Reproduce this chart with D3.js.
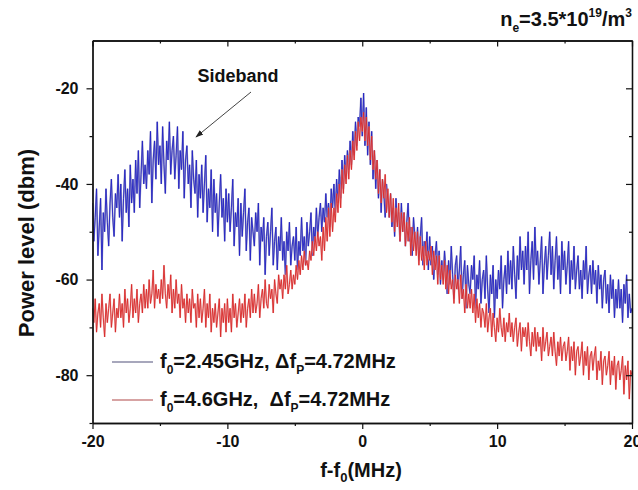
<!DOCTYPE html>
<html>
<head>
<meta charset="utf-8">
<script src="https://cdn.jsdelivr.net/npm/d3@7"></script>
<style>
  html,body{margin:0;padding:0;background:#fff;}
  text{font-family:"Liberation Sans",Arial,sans-serif;font-weight:bold;fill:#111;}
</style>
</head>
<body>
<svg id="chart" width="638" height="490"></svg>
<script>
// ---- data ----
const freqStart = -20;   // MHz
const freqStep = 0.1;    // MHz
// f0 = 2.45 GHz (blue), one row per MHz
const blueValues = [
  -44,-52,-47,-41,-55,-49,-43,-58,-46,-50,
  -41,-48,-53,-44,-39,-47,-51,-42,-45,-38,
  -47,-40,-52,-43,-37,-46,-41,-49,-36,-44,
  -39,-46,-35,-42,-33,-45,-38,-31,-40,-36,
  -41,-33,-38,-29,-44,-35,-31,-39,-27,-36,
  -32,-40,-28,-36,-42,-31,-35,-27,-38,-33,
  -30,-39,-34,-28,-41,-33,-37,-29,-43,-35,
  -32,-40,-36,-45,-33,-39,-42,-35,-47,-38,
  -43,-36,-46,-40,-34,-48,-41,-45,-37,-50,
  -39,-46,-42,-51,-44,-38,-47,-43,-52,-41,
  -48,-42,-50,-45,-39,-53,-46,-49,-43,-55,
  -44,-51,-46,-41,-54,-48,-45,-56,-47,-50,
  -53,-46,-50,-44,-57,-49,-52,-47,-59,-51,
  -48,-55,-50,-45,-57,-52,-49,-58,-51,-54,
  -47,-56,-52,-59,-50,-54,-48,-57,-53,-51,
  -56,-49,-58,-52,-55,-47,-54,-51,-57,-48,
  -53,-50,-46,-55,-49,-52,-45,-51,-47,-44,
  -50,-45,-48,-42,-47,-44,-49,-41,-45,-40,
  -46,-39,-44,-37,-43,-35,-41,-34,-39,-33,
  -37,-31,-36,-29,-34,-27,-32,-26,-28,-22,
  -30,-21,-32,-24,-34,-27,-36,-29,-39,-33,
  -41,-35,-43,-37,-46,-39,-42,-47,-40,-44,
  -47,-42,-49,-45,-51,-43,-48,-46,-52,-44,
  -50,-46,-53,-48,-44,-52,-49,-55,-47,-51,
  -54,-49,-56,-51,-47,-57,-52,-55,-50,-58,
  -51,-57,-53,-60,-55,-52,-59,-54,-61,-56,
  -60,-54,-58,-63,-56,-61,-53,-59,-64,-57,
  -55,-62,-58,-53,-64,-59,-56,-66,-57,-61,
  -63,-57,-60,-55,-66,-59,-62,-56,-65,-60,
  -58,-64,-55,-62,-67,-59,-63,-57,-68,-60,
  -64,-58,-62,-55,-66,-60,-57,-63,-54,-61,
  -56,-62,-53,-59,-64,-55,-60,-51,-58,-54,
  -61,-53,-58,-50,-63,-56,-52,-60,-49,-57,
  -54,-61,-56,-51,-63,-57,-53,-60,-55,-50,
  -59,-53,-62,-56,-51,-60,-55,-63,-52,-58,
  -54,-61,-57,-52,-63,-56,-60,-53,-62,-58,
  -55,-62,-58,-64,-56,-60,-53,-63,-59,-57,
  -63,-56,-61,-58,-65,-57,-62,-59,-66,-60,
  -58,-65,-61,-67,-59,-64,-60,-68,-62,-66,
  -60,-66,-62,-69,-61,-65,-59,-68,-63,-67,
  -66
];
// f0 = 4.6 GHz (red), one row per MHz
const redValues = [
  -66,-69,-64,-71,-67,-65,-70,-63,-68,-72,
  -65,-69,-66,-63,-70,-67,-64,-71,-66,-68,
  -63,-68,-65,-70,-62,-67,-64,-69,-66,-61,
  -68,-64,-67,-62,-69,-65,-63,-67,-61,-66,
  -62,-66,-60,-65,-63,-58,-66,-61,-64,-62,
  -65,-60,-64,-57,-63,-66,-61,-64,-59,-67,
  -62,-66,-60,-65,-63,-68,-61,-66,-64,-69,
  -63,-67,-64,-69,-62,-66,-65,-70,-63,-68,
  -64,-69,-66,-62,-70,-65,-68,-63,-71,-66,
  -69,-65,-70,-67,-64,-72,-66,-69,-65,-71,
  -64,-69,-66,-71,-63,-68,-65,-70,-67,-64,
  -69,-65,-68,-63,-70,-66,-64,-68,-62,-67,
  -63,-67,-65,-61,-68,-64,-62,-66,-60,-65,
  -66,-61,-64,-62,-67,-60,-63,-65,-59,-62,
  -60,-64,-59,-62,-57,-63,-61,-58,-62,-59,
  -61,-57,-60,-56,-59,-55,-58,-54,-57,-56,
  -58,-54,-56,-52,-55,-51,-54,-50,-53,-51,
  -56,-49,-54,-47,-52,-45,-51,-44,-50,-45,
  -48,-42,-46,-40,-45,-37,-42,-36,-40,-34,
  -39,-33,-37,-31,-35,-29,-33,-27,-31,-26,
  -29,-25,-31,-26,-32,-28,-35,-30,-37,-33,
  -39,-35,-42,-37,-44,-39,-43,-38,-46,-41,
  -47,-42,-48,-43,-50,-45,-49,-44,-52,-46,
  -50,-46,-53,-48,-52,-47,-55,-49,-54,-50,
  -55,-50,-57,-51,-56,-53,-58,-52,-57,-54,
  -56,-53,-59,-54,-58,-55,-61,-55,-60,-57,
  -61,-56,-62,-57,-63,-58,-62,-60,-65,-59,
  -62,-60,-65,-59,-64,-62,-67,-61,-66,-63,
  -66,-62,-67,-63,-69,-64,-68,-65,-70,-66,
  -67,-70,-65,-71,-68,-66,-72,-67,-70,-73,
  -68,-71,-66,-70,-72,-68,-73,-69,-71,-67,
  -72,-69,-73,-70,-68,-74,-71,-69,-75,-70,
  -72,-70,-74,-69,-73,-76,-71,-74,-70,-75,
  -71,-74,-72,-77,-70,-75,-73,-71,-76,-74,
  -72,-76,-71,-75,-78,-73,-76,-72,-77,-74,
  -73,-77,-75,-72,-79,-74,-77,-73,-80,-75,
  -74,-78,-76,-73,-80,-75,-78,-74,-81,-76,
  -75,-79,-76,-74,-81,-77,-79,-75,-82,-77,
  -76,-80,-78,-75,-82,-77,-80,-76,-83,-78,
  -77,-81,-79,-76,-84,-78,-81,-77,-85,-79,
  -80
];
const xTicks = [-20, -10, 0, 10, 20];
const xMinorTicks = [-15, -5, 5, 15];
const yTicks = [-20, -40, -60, -80];
const yMinorTicks = [-30, -50, -70, -90];
const xDomain = [-20, 20];
const yDomain = [-90, -10];

// ---- layout ----
const svg = d3.select("#chart");
const L = 92.5, R = 632, T = 40.5, B = 423;
const x = d3.scaleLinear().domain(xDomain).range([L, R]);
const y = d3.scaleLinear().domain(yDomain).range([B, T]);

svg.append("defs").append("clipPath").attr("id","clip")
  .append("rect").attr("x",L).attr("y",T).attr("width",R-L).attr("height",B-T);

const line = d3.line()
  .x((d,i) => x(freqStart + i*freqStep))
  .y(d => y(d));

const plot = svg.append("g").attr("clip-path","url(#clip)");
plot.append("path").datum(blueValues)
  .attr("fill","none").attr("stroke","#8080b4").attr("stroke-width",1.7).attr("opacity",0.75)
  .attr("d", line);
plot.append("path").datum(blueValues)
  .attr("fill","none").attr("stroke","#2222c4").attr("stroke-width",0.9)
  .attr("d", line);
plot.append("path").datum(redValues)
  .attr("fill","none").attr("stroke","#e8a0a0").attr("stroke-width",1.7).attr("opacity",0.75)
  .attr("d", line);
plot.append("path").datum(redValues)
  .attr("fill","none").attr("stroke","#d82828").attr("stroke-width",0.9)
  .attr("d", line);

// ---- axes ----
const fmt = d => String(d);
function styleAxis(g){
  g.selectAll("path.domain").attr("stroke","#111").attr("stroke-width",1.3);
  g.selectAll(".tick line").attr("stroke","#111").attr("stroke-width",1.2);
  g.selectAll("text").style("font-size","16px").style("font-weight","bold")
    .style("font-family","'Liberation Sans',Arial,sans-serif").attr("fill","#111");
}
// bottom
svg.append("g").attr("transform",`translate(0,${B})`)
  .call(d3.axisBottom(x).tickValues(xTicks).tickSize(6).tickSizeOuter(0).tickPadding(7).tickFormat(fmt))
  .call(styleAxis);
svg.append("g").attr("transform",`translate(0,${B})`)
  .call(d3.axisBottom(x).tickValues(xMinorTicks).tickSize(3).tickSizeOuter(0).tickFormat(""))
  .call(styleAxis);
// top
svg.append("g").attr("transform",`translate(0,${T})`)
  .call(d3.axisTop(x).tickValues(xTicks).tickSize(-6).tickSizeOuter(0).tickFormat(""))
  .call(styleAxis);
svg.append("g").attr("transform",`translate(0,${T})`)
  .call(d3.axisTop(x).tickValues(xMinorTicks).tickSize(-3).tickSizeOuter(0).tickFormat(""))
  .call(styleAxis);
// left
svg.append("g").attr("transform",`translate(${L},0)`)
  .call(d3.axisLeft(y).tickValues(yTicks).tickSize(6).tickSizeOuter(0).tickPadding(8).tickFormat(fmt))
  .call(styleAxis);
svg.append("g").attr("transform",`translate(${L},0)`)
  .call(d3.axisLeft(y).tickValues(yMinorTicks).tickSize(3).tickSizeOuter(0).tickFormat(""))
  .call(styleAxis);
// right
svg.append("g").attr("transform",`translate(${R},0)`)
  .call(d3.axisRight(y).tickValues(yTicks).tickSize(-6).tickSizeOuter(0).tickFormat(""))
  .call(styleAxis);
svg.append("g").attr("transform",`translate(${R},0)`)
  .call(d3.axisRight(y).tickValues(yMinorTicks).tickSize(-3).tickSizeOuter(0).tickFormat(""))
  .call(styleAxis);

// ---- titles ----
const xt = svg.append("text").attr("x",361).attr("y",477).attr("text-anchor","middle")
  .style("font-size","20px");
xt.append("tspan").text("f-f");
xt.append("tspan").attr("dy",5).style("font-size","13px").text("0");
xt.append("tspan").attr("dy",-5).text("(MHz)");

svg.append("text").attr("transform","translate(34,243) rotate(-90)")
  .attr("text-anchor","middle").style("font-size","22px").text("Power level (dbm)");

const nt = svg.append("text").attr("x",632).attr("y",26).attr("text-anchor","end")
  .style("font-size","20px");
nt.append("tspan").text("n");
nt.append("tspan").attr("dy",6).style("font-size","12px").text("e");
nt.append("tspan").attr("dy",-6).text("=3.5*10");
nt.append("tspan").attr("dy",-9).style("font-size","12px").text("19");
nt.append("tspan").attr("dy",9).text("/m");
nt.append("tspan").attr("dy",-9).style("font-size","12px").text("3");

// ---- annotation ----
svg.append("text").attr("x",238).attr("y",82).attr("text-anchor","middle")
  .style("font-size","18px").text("Sideband");
svg.append("defs").append("marker").attr("id","arr").attr("viewBox","0 0 10 10")
  .attr("refX",9).attr("refY",5).attr("markerWidth",8).attr("markerHeight",8)
  .attr("orient","auto").append("path").attr("d","M0,1.5 L10,5 L0,8.5 Z").attr("fill","#222");
svg.append("line").attr("x1",251).attr("y1",92).attr("x2",196).attr("y2",137)
  .attr("stroke","#444").attr("stroke-width",1).attr("marker-end","url(#arr)");

// ---- legend ----
const legendItems = [
  {color:"#50507a", f0:"=2.45GHz, ", df:"=4.72MHz"},
  {color:"#b04848", f0:"=4.6GHz,  ", df:"=4.72MHz"}
];
const legendY = [368, 406];
legendItems.forEach((it,i) => {
  const yy = legendY[i];
  svg.append("line").attr("x1",112).attr("x2",153).attr("y1",yy-6).attr("y2",yy-6)
    .attr("stroke",it.color).attr("stroke-width",1.2);
  const t = svg.append("text").attr("x",160).attr("y",yy).style("font-size","20px")
    .attr("xml:space","preserve").style("white-space","pre");
  t.append("tspan").text("f");
  t.append("tspan").attr("dy",6).style("font-size","12px").text("0");
  t.append("tspan").attr("dy",-6).text(it.f0 + "\u0394f");
  t.append("tspan").attr("dy",6).style("font-size","12px").text("P");
  t.append("tspan").attr("dy",-6).text(it.df);
});
</script>
</body>
</html>
